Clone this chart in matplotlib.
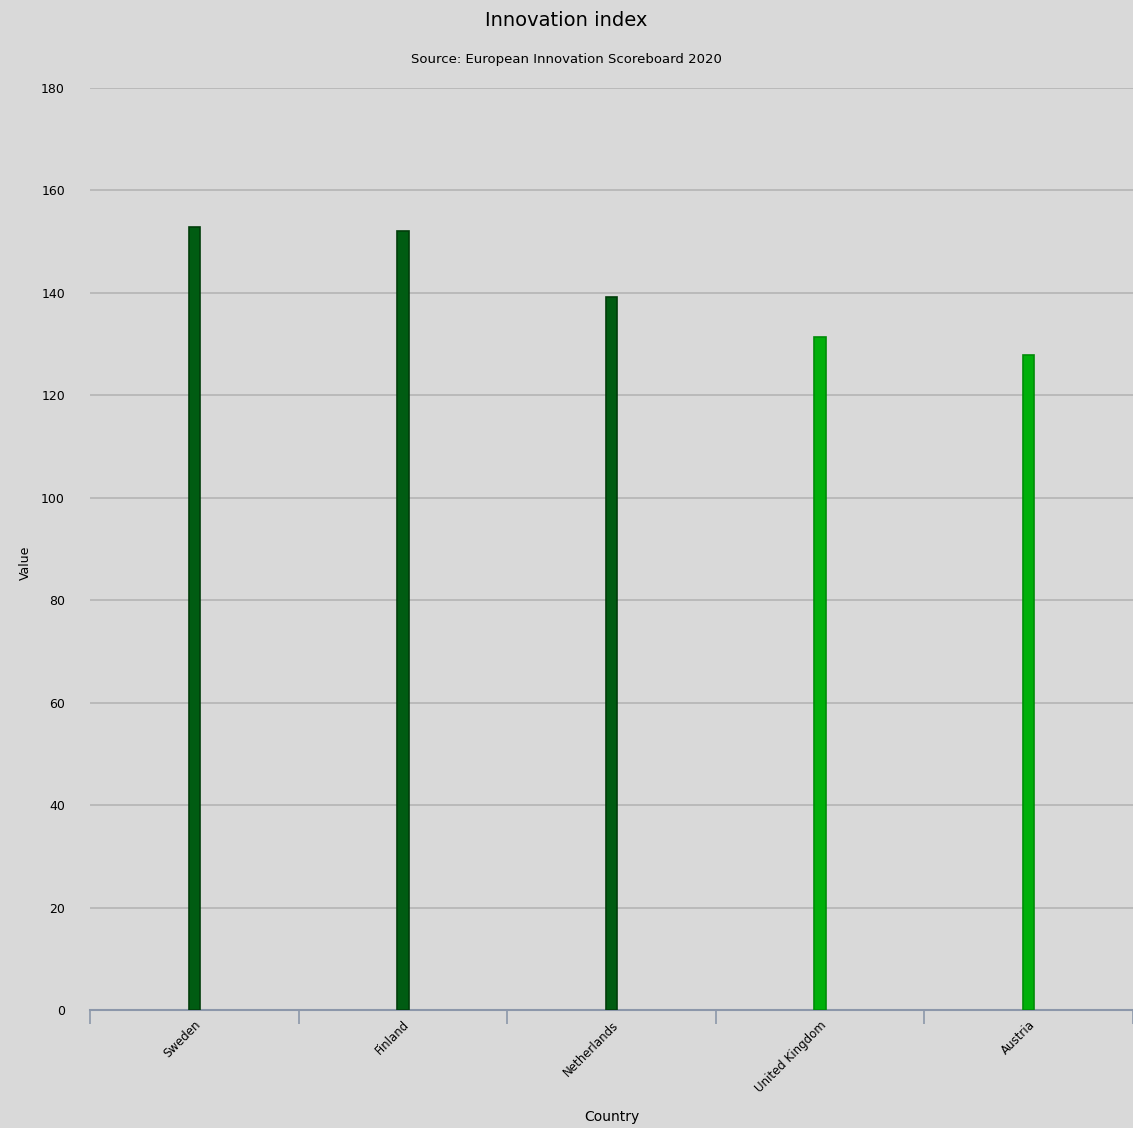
import matplotlib.pyplot as plt
import numpy as np

countries = ["Sweden", "Finland", "Netherlands", "United Kingdom", "Austria"]
values = [152.8, 152.1, 139.1, 131.4, 127.8]
bar_colors = ["#005c12", "#005c12", "#005c12", "#00b00a", "#00b00a"]
edge_colors = ["#003d0a", "#003d0a", "#003d0a", "#008c08", "#008c08"]
yticks = [0, 20, 40, 60, 80, 100, 120, 140, 160, 180]

bg = "#d9d9d9"
fig = plt.figure(figsize=(11.33, 11.28), dpi=100, facecolor=bg)
ax = fig.add_axes([0.0794, 0.1046, 0.9206, 0.8174], facecolor=bg)

x = np.arange(len(countries))
ax.bar(x, values, width=0.055, color=bar_colors, edgecolor=edge_colors,
       linewidth=1.2, zorder=3)

ax.set_xlim(-0.5, len(countries) - 0.5)
ax.set_ylim(0, 180)
ax.set_yticks(yticks)
ax.grid(axis="y", color="#b4b4b4", linewidth=1.2, zorder=0)
ax.tick_params(axis="y", length=0, labelsize=9, pad=18)

# category labels at centres, tick marks at the boundaries
ax.set_xticks(x)
ax.set_xticklabels(countries, rotation=45, ha="right", rotation_mode="anchor",
                   fontsize=8.5)
ax.tick_params(axis="x", which="major", length=0, pad=6)
ax.set_xticks(np.arange(-0.5, len(countries), 1.0), minor=True)
ax.tick_params(axis="x", which="minor", length=10, color="#8c97aa", width=1.2)

for s in ["top", "right", "left"]:
    ax.spines[s].set_visible(False)
ax.spines["bottom"].set_color("#8c97aa")
ax.spines["bottom"].set_linewidth(1.5)

fig.text(25 / 1133, 1 - 563 / 1128, "Value", rotation=90, ha="center",
         va="center", fontsize=9)
fig.text(612 / 1133, 1 - 1117 / 1128, "Country", ha="center", va="center",
         fontsize=10)
fig.text(0.5, 0.982, "Innovation index", ha="center", va="center", fontsize=14)
fig.text(0.5, 0.947, "Source: European Innovation Scoreboard 2020",
         ha="center", va="center", fontsize=9.5)

fig.savefig("out.png", dpi=100, facecolor=bg)
